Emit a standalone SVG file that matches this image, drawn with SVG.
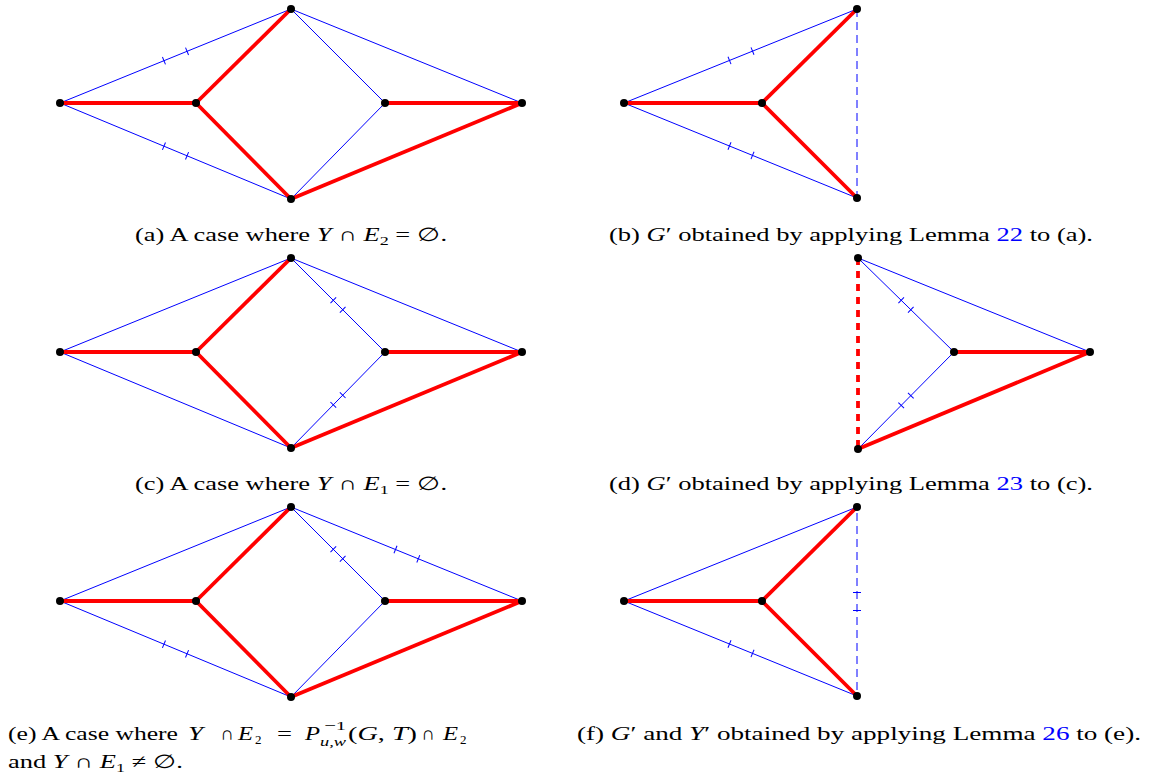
<svg xmlns="http://www.w3.org/2000/svg" xmlns:xlink="http://www.w3.org/1999/xlink" width="1155" height="776" viewBox="0 0 1155 776">
<defs>
<style>
.b{stroke:#0000ff;stroke-width:1;fill:none}
.r{stroke:#ff0000;stroke-width:3.8;fill:none}
.d{stroke-dasharray:8 5}
.rd{stroke-dasharray:7 6}
.n circle{fill:#000}
text{font-family:"Liberation Serif","Times New Roman",serif;font-size:19px;fill:#000}
.i{font-style:italic}
.lk{fill:#0000ff}
.s{font-size:13px}
</style>
<line id="tk" x1="0" y1="-4" x2="0" y2="4" stroke="#0000ff" stroke-width="1"/>
</defs>
<rect width="1155" height="776" fill="#fff"/>

<g id="connectors">
<!-- (a) -->
<line class="b" x1="60" y1="103" x2="291" y2="9"/>
<line class="b" x1="60" y1="103" x2="291" y2="199"/>
<line class="b" x1="291" y1="9" x2="385" y2="103"/>
<line class="b" x1="291" y1="9" x2="522" y2="103"/>
<line class="b" x1="291" y1="199" x2="385" y2="103"/>
<line class="r" x1="60" y1="103" x2="196" y2="103"/>
<line class="r" x1="196" y1="103" x2="291" y2="9"/>
<line class="r" x1="196" y1="103" x2="291" y2="199"/>
<line class="r" x1="385" y1="103" x2="522" y2="103"/>
<line class="r" x1="291" y1="199" x2="522" y2="103"/>
<use xlink:href="#tk" transform="translate(163.95,60.7) rotate(-22.14)"/>
<use xlink:href="#tk" transform="translate(187.05,51.3) rotate(-22.14)"/>
<use xlink:href="#tk" transform="translate(163.95,146.2) rotate(22.57)"/>
<use xlink:href="#tk" transform="translate(187.05,155.8) rotate(22.57)"/>
<!-- (b) -->
<line class="b" x1="624" y1="103" x2="857" y2="9"/>
<line class="b" x1="624" y1="103" x2="857" y2="198"/>
<line class="b d" x1="857" y1="9" x2="857" y2="198"/>
<line class="r" x1="624" y1="103" x2="762" y2="103"/>
<line class="r" x1="762" y1="103" x2="857" y2="9"/>
<line class="r" x1="762" y1="103" x2="857" y2="198"/>
<use xlink:href="#tk" transform="translate(729.5,60.4) rotate(-21.97)"/>
<use xlink:href="#tk" transform="translate(752.5,51.1) rotate(-21.97)"/>
<use xlink:href="#tk" transform="translate(729.5,146) rotate(22.18)"/>
<use xlink:href="#tk" transform="translate(752.5,155.4) rotate(22.18)"/>
<!-- (c) -->
<line class="b" x1="60" y1="352" x2="291" y2="258"/>
<line class="b" x1="60" y1="352" x2="291" y2="448"/>
<line class="b" x1="291" y1="258" x2="385" y2="352"/>
<line class="b" x1="291" y1="258" x2="522" y2="352"/>
<line class="b" x1="291" y1="448" x2="385" y2="352"/>
<line class="r" x1="60" y1="352" x2="196" y2="352"/>
<line class="r" x1="196" y1="352" x2="291" y2="258"/>
<line class="r" x1="196" y1="352" x2="291" y2="448"/>
<line class="r" x1="385" y1="352" x2="522" y2="352"/>
<line class="r" x1="291" y1="448" x2="522" y2="352"/>
<use xlink:href="#tk" transform="translate(333.3,300.3) rotate(45)"/>
<use xlink:href="#tk" transform="translate(342.7,309.7) rotate(45)"/>
<use xlink:href="#tk" transform="translate(333.3,404.8) rotate(-45.6)"/>
<use xlink:href="#tk" transform="translate(342.7,395.2) rotate(-45.6)"/>
<!-- (d) -->
<line class="b" x1="858" y1="258" x2="954" y2="352"/>
<line class="b" x1="858" y1="258" x2="1090" y2="352"/>
<line class="b" x1="858" y1="449" x2="954" y2="352"/>
<line class="r rd" x1="858" y1="258" x2="858" y2="449"/>
<line class="r" x1="954" y1="352" x2="1090" y2="352"/>
<line class="r" x1="858" y1="449" x2="1090" y2="352"/>
<use xlink:href="#tk" transform="translate(901.2,300.3) rotate(44.4)"/>
<use xlink:href="#tk" transform="translate(910.8,309.7) rotate(44.4)"/>
<use xlink:href="#tk" transform="translate(901.2,405.35) rotate(-45.3)"/>
<use xlink:href="#tk" transform="translate(910.8,395.65) rotate(-45.3)"/>
<!-- (e) -->
<line class="b" x1="60" y1="601" x2="291" y2="507"/>
<line class="b" x1="60" y1="601" x2="291" y2="697"/>
<line class="b" x1="291" y1="507" x2="385" y2="601"/>
<line class="b" x1="291" y1="507" x2="522" y2="601"/>
<line class="b" x1="291" y1="697" x2="385" y2="601"/>
<line class="r" x1="60" y1="601" x2="196" y2="601"/>
<line class="r" x1="196" y1="601" x2="291" y2="507"/>
<line class="r" x1="196" y1="601" x2="291" y2="697"/>
<line class="r" x1="385" y1="601" x2="522" y2="601"/>
<line class="r" x1="291" y1="697" x2="522" y2="601"/>
<use xlink:href="#tk" transform="translate(163.95,644.2) rotate(22.57)"/>
<use xlink:href="#tk" transform="translate(187.05,653.8) rotate(22.57)"/>
<use xlink:href="#tk" transform="translate(333.3,549.3) rotate(45)"/>
<use xlink:href="#tk" transform="translate(342.7,558.7) rotate(45)"/>
<use xlink:href="#tk" transform="translate(395.5,549.5) rotate(22.14)"/>
<use xlink:href="#tk" transform="translate(418.3,558.8) rotate(22.14)"/>
<!-- (f) -->
<line class="b" x1="624" y1="601" x2="857" y2="507"/>
<line class="b" x1="624" y1="601" x2="857" y2="696"/>
<line class="b d" x1="857" y1="507" x2="857" y2="696" stroke-dashoffset="7"/>
<line class="r" x1="624" y1="601" x2="762" y2="601"/>
<line class="r" x1="762" y1="601" x2="857" y2="507"/>
<line class="r" x1="762" y1="601" x2="857" y2="696"/>
<use xlink:href="#tk" transform="translate(729.5,644) rotate(22.18)"/>
<use xlink:href="#tk" transform="translate(752.5,653.4) rotate(22.18)"/>
<use xlink:href="#tk" transform="translate(857,592.5) rotate(90)"/>
<use xlink:href="#tk" transform="translate(857,610.5) rotate(90)"/>
</g>

<g class="n">
<g id="a_L"><circle cx="60" cy="103" r="4"/></g>
<g id="a_A"><circle cx="196" cy="103" r="4"/></g>
<g id="a_T"><circle cx="291" cy="9" r="4"/></g>
<g id="a_B"><circle cx="291" cy="199" r="4"/></g>
<g id="a_C"><circle cx="385" cy="103" r="4"/></g>
<g id="a_R"><circle cx="522" cy="103" r="4"/></g>
<g id="b_L"><circle cx="624" cy="103" r="4"/></g>
<g id="b_A"><circle cx="762" cy="103" r="4"/></g>
<g id="b_T"><circle cx="857" cy="9" r="4"/></g>
<g id="b_B"><circle cx="857" cy="198" r="4"/></g>
<g id="c_L"><circle cx="60" cy="352" r="4"/></g>
<g id="c_A"><circle cx="196" cy="352" r="4"/></g>
<g id="c_T"><circle cx="291" cy="258" r="4"/></g>
<g id="c_B"><circle cx="291" cy="448" r="4"/></g>
<g id="c_C"><circle cx="385" cy="352" r="4"/></g>
<g id="c_R"><circle cx="522" cy="352" r="4"/></g>
<g id="d_T"><circle cx="858" cy="258" r="4"/></g>
<g id="d_B"><circle cx="858" cy="449" r="4"/></g>
<g id="d_C"><circle cx="954" cy="352" r="4"/></g>
<g id="d_R"><circle cx="1090" cy="352" r="4"/></g>
<g id="e_L"><circle cx="60" cy="601" r="4"/></g>
<g id="e_A"><circle cx="196" cy="601" r="4"/></g>
<g id="e_T"><circle cx="291" cy="507" r="4"/></g>
<g id="e_B"><circle cx="291" cy="697" r="4"/></g>
<g id="e_C"><circle cx="385" cy="601" r="4"/></g>
<g id="e_R"><circle cx="522" cy="601" r="4"/></g>
<g id="f_L"><circle cx="624" cy="601" r="4"/></g>
<g id="f_A"><circle cx="762" cy="601" r="4"/></g>
<g id="f_T"><circle cx="857" cy="507" r="4"/></g>
<g id="f_B"><circle cx="857" cy="696" r="4"/></g>
</g>

<g id="captions">
<text x="291" y="241" text-anchor="middle" textLength="312" lengthAdjust="spacingAndGlyphs">(a) A case where <tspan class="i">Y</tspan> ∩ <tspan class="i">E</tspan><tspan class="s" dy="4">2</tspan><tspan dy="-4"> = ∅.</tspan></text>
<text x="851" y="241" text-anchor="middle" textLength="484" lengthAdjust="spacingAndGlyphs">(b) <tspan class="i">G</tspan>′ obtained by applying Lemma <tspan class="lk">22</tspan> to (a).</text>
<text x="291" y="490" text-anchor="middle" textLength="312" lengthAdjust="spacingAndGlyphs">(c) A case where <tspan class="i">Y</tspan> ∩ <tspan class="i">E</tspan><tspan class="s" dy="4">1</tspan><tspan dy="-4"> = ∅.</tspan></text>
<text x="851" y="490" text-anchor="middle" textLength="484" lengthAdjust="spacingAndGlyphs">(d) <tspan class="i">G</tspan>′ obtained by applying Lemma <tspan class="lk">23</tspan> to (c).</text>
<text x="8" y="740" textLength="170" lengthAdjust="spacingAndGlyphs">(e) A case where</text>
<text x="188" y="740" class="i" textLength="15" lengthAdjust="spacingAndGlyphs">Y</text>
<text x="220" y="740" textLength="14" lengthAdjust="spacingAndGlyphs">∩</text>
<text x="238" y="740" class="i" textLength="15" lengthAdjust="spacingAndGlyphs">E</text>
<text x="255" y="744" class="s">2</text>
<text x="277" y="740" textLength="15" lengthAdjust="spacingAndGlyphs">=</text>
<text x="305" y="740" class="i" textLength="15" lengthAdjust="spacingAndGlyphs">P</text>
<text x="324" y="730" class="s" textLength="22" lengthAdjust="spacingAndGlyphs">−1</text>
<text x="320" y="746" class="s i" textLength="26" lengthAdjust="spacingAndGlyphs">u,w</text>
<text x="348" y="740" textLength="69" lengthAdjust="spacingAndGlyphs">(<tspan class="i">G</tspan>, <tspan class="i">T</tspan>)</text>
<text x="421" y="740" textLength="14" lengthAdjust="spacingAndGlyphs">∩</text>
<text x="443" y="740" class="i" textLength="15" lengthAdjust="spacingAndGlyphs">E</text>
<text x="460" y="744" class="s">2</text>
<text x="8" y="768" textLength="175" lengthAdjust="spacingAndGlyphs">and <tspan class="i">Y</tspan> ∩ <tspan class="i">E</tspan><tspan class="s" dy="4">1</tspan><tspan dy="-4"> ≠ ∅.</tspan></text>
<text x="859" y="740" text-anchor="middle" textLength="564" lengthAdjust="spacingAndGlyphs">(f) <tspan class="i">G</tspan>′ and <tspan class="i">Y</tspan>′ obtained by applying Lemma <tspan class="lk">26</tspan> to (e).</text>
</g>
</svg>
